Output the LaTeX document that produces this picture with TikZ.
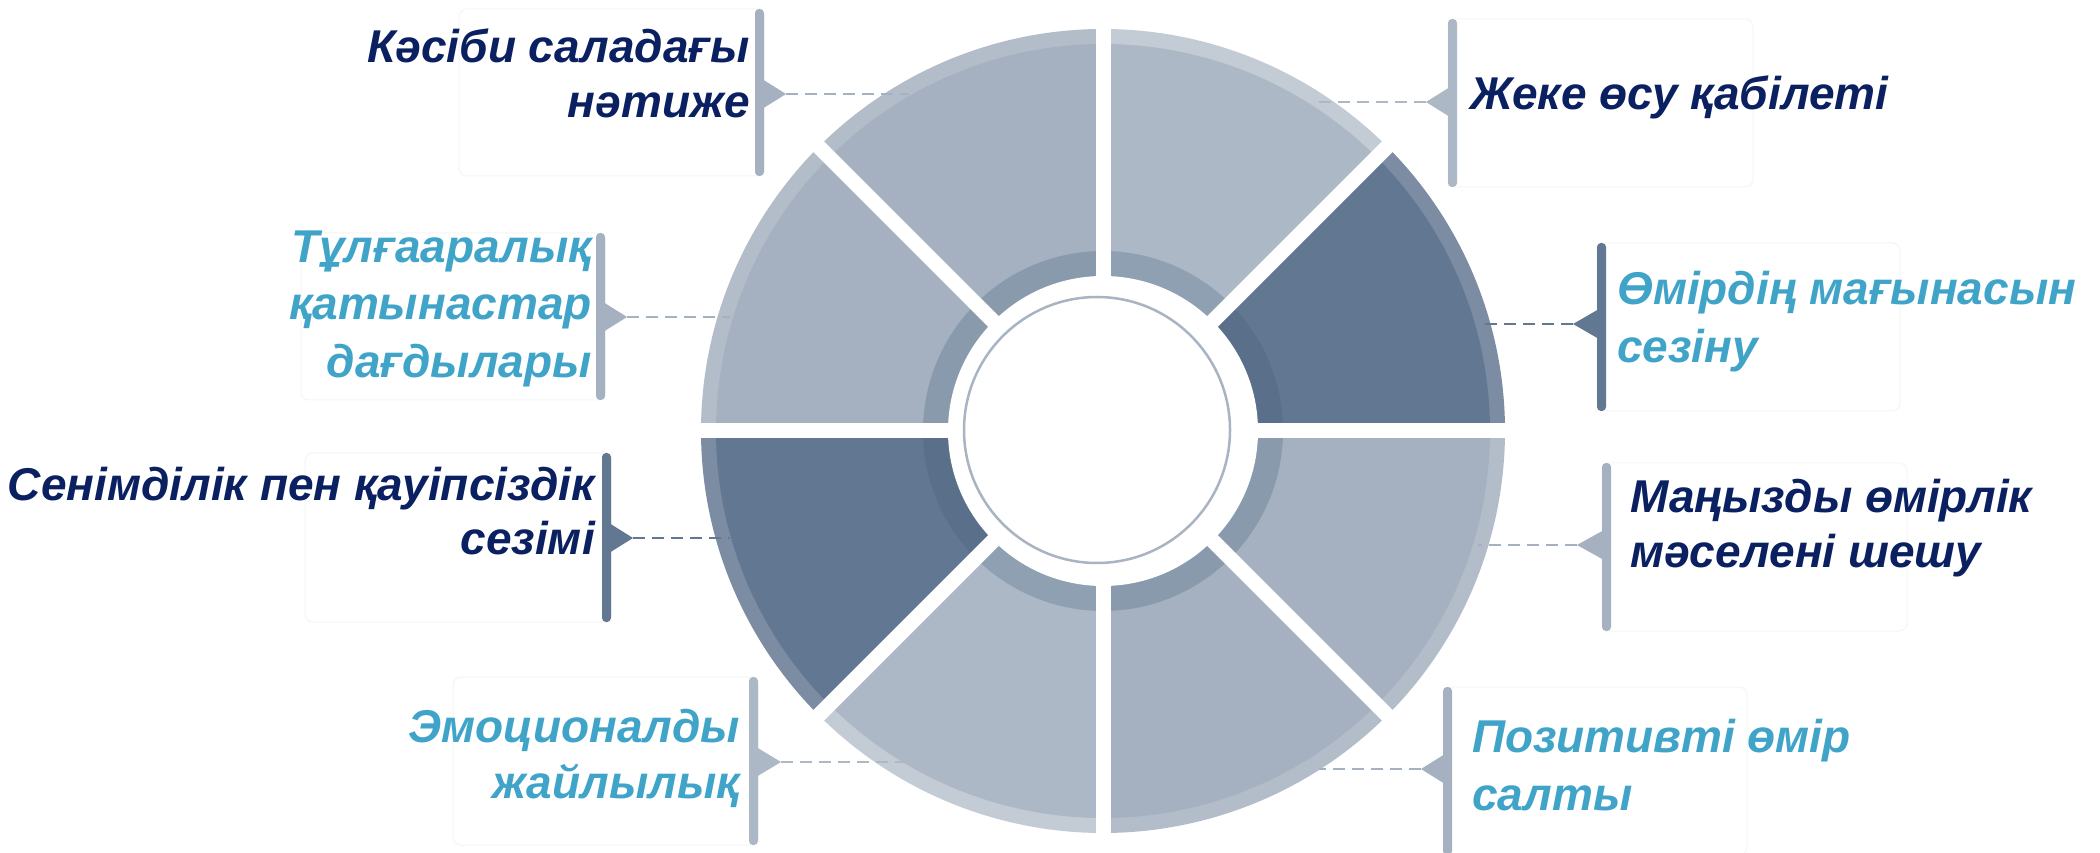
\documentclass[tikz,border=0pt]{standalone}
\usepackage{fontspec}
\setmainfont{Liberation Sans}
\definecolor{navy}{HTML}{0A2060}
\definecolor{teal}{HTML}{40A4C9}
\definecolor{rimA}{HTML}{C3CBD5}
\definecolor{bodyA}{HTML}{ADB8C6}
\definecolor{bandA}{HTML}{8FA0B2}
\definecolor{rimB}{HTML}{B3BDCA}
\definecolor{bodyB}{HTML}{A5B1C1}
\definecolor{bandB}{HTML}{8A9AAD}
\definecolor{rimD}{HTML}{7B8CA3}
\definecolor{bodyD}{HTML}{627791}
\definecolor{bandD}{HTML}{5A6F8A}
\definecolor{hubline}{HTML}{A9B4C3}
\definecolor{boxline}{HTML}{F4F5F7}
\newcommand\mysegm[4]{%
  \fill[#2] (C) -- ++(#1:402) arc[start angle=#1, delta angle=45, radius=402] -- cycle;
  \fill[#3] (C) -- ++(#1:387) arc[start angle=#1, delta angle=45, radius=387] -- cycle;
  \fill[#4] (C) -- ++(#1:180) arc[start angle=#1, delta angle=45, radius=180] -- cycle;
}
\tikzset{
  lbl/.style={font=\fontsize{46}{54}\selectfont\bfseries\itshape, inner sep=0pt},
  bx/.style={draw=boxline, line width=1pt, rounded corners=8pt, fill=white},
  bar/.style={rounded corners=4pt},
  dsh/.style={line width=2.6pt, dash pattern=on 12pt off 7pt}
}
\begin{document}
\begin{tikzpicture}[x=1pt,y=1pt]
\useasboundingbox (0,0) rectangle (2100,852);
\fill[white] (0,0) rectangle (2100,852);

% ---------- label boxes ----------
\draw[bx] (459,676) rectangle (764,843);
\draw[bx] (301,452) rectangle (605,619);
\draw[bx] (305,230) rectangle (611,399);
\draw[bx] (453,7) rectangle (758,175);
\draw[bx] (1448,665) rectangle (1753,833);
\draw[bx] (1597,441) rectangle (1900,609);
\draw[bx] (1602,221) rectangle (1907,389);
\draw[bx] (1443,-3) rectangle (1747,165);

% ---------- wheel ----------
\coordinate (C) at (1103,421);
\mysegm{0}{rimD}{bodyD}{bandD}
\mysegm{45}{rimA}{bodyA}{bandA}
\mysegm{90}{rimB}{bodyB}{bandB}
\mysegm{135}{rimB}{bodyB}{bandB}
\mysegm{180}{rimD}{bodyD}{bandD}
\mysegm{225}{rimA}{bodyA}{bandA}
\mysegm{270}{rimB}{bodyB}{bandB}
\mysegm{315}{rimB}{bodyB}{bandB}
\foreach \a in {0,45,...,315} \draw[white, line width=15pt] (C) -- ++(\a:410);
\fill[white] (C) circle[radius=155];
\node[circle, draw=hubline, line width=2.5pt, minimum size=266pt, inner sep=0pt] (hub) at (1097,422) {};

% ---------- bars and notches ----------
% label 1
\fill[bodyB, bar] (755,676) rectangle (764,843);
\fill[bodyB] (762,773) -- (786,758) -- (762,743) -- cycle;
\coordinate (n1) at (786,758); \coordinate (d1) at (909,758);
\draw[bodyB, dsh] (n1) -- (d1);
% label 2
\fill[bodyB, bar] (596,452) rectangle (605,619);
\fill[bodyB] (603,550) -- (627,535) -- (603,520) -- cycle;
\coordinate (n2) at (627,535); \coordinate (d2) at (730,535);
\draw[bodyB, dsh] (n2) -- (d2);
% label 3
\fill[bodyD, bar] (602,230) rectangle (611,399);
\fill[bodyD] (609,329) -- (633,314) -- (609,299) -- cycle;
\coordinate (n3) at (633,314); \coordinate (d3) at (730,314);
\draw[bodyD, dsh] (n3) -- (d3);
% label 4
\fill[bodyA, bar] (749,7) rectangle (758,175);
\fill[bodyA] (756,105) -- (781,90) -- (756,75) -- cycle;
\coordinate (n4) at (781,90); \coordinate (d4) at (904,90);
\draw[bodyA, dsh] (n4) -- (d4);
% label 5
\fill[bodyA, bar] (1448,665) rectangle (1457,833);
\fill[bodyA] (1450,765) -- (1426,750) -- (1450,735) -- cycle;
\coordinate (n5) at (1426,750); \coordinate (d5) at (1319,750);
\draw[bodyA, dsh] (n5) -- (d5);
% label 6
\fill[bodyD, bar] (1597,441) rectangle (1606,609);
\fill[bodyD] (1599,543) -- (1573,528) -- (1599,513) -- cycle;
\coordinate (n6) at (1573,528); \coordinate (d6) at (1478,528);
\draw[bodyD, dsh] (n6) -- (d6);
% label 7
\fill[bodyB, bar] (1602,221) rectangle (1611,389);
\fill[bodyB] (1604,322) -- (1577,307) -- (1604,292) -- cycle;
\coordinate (n7) at (1577,307); \coordinate (d7) at (1478,307);
\draw[bodyB, dsh] (n7) -- (d7);
% label 8
\fill[bodyB, bar] (1443,-3) rectangle (1452,165);
\fill[bodyB] (1445,98) -- (1421,83) -- (1445,68) -- cycle;
\coordinate (n8) at (1421,83); \coordinate (d8) at (1319,83);
\draw[bodyB, dsh] (n8) -- (d8);

% ---------- texts ----------
\node[lbl, text=navy, anchor=base east] (t1a) at (750,789) {Кәсіби саладағы};
\node[lbl, text=navy, anchor=base east] (t1b) at (750,734) {нәтиже};
\node[lbl, text=teal, anchor=base east] (t2a) at (592,589) {Тұлғааралық};
\node[lbl, text=teal, anchor=base east] (t2b) at (592,532) {қатынастар};
\node[lbl, text=teal, anchor=base east] (t2c) at (592,474) {дағдылары};
\node[lbl, text=navy, anchor=base east] (t3a) at (595,352) {Сенімділік пен қауіпсіздік};
\node[lbl, text=navy, anchor=base east] (t3b) at (595,298) {сезімі};
\node[lbl, text=teal, anchor=base east] (t4a) at (740,110) {Эмоционалды};
\node[lbl, text=teal, anchor=base east] (t4b) at (740,54) {жайлылық};
\node[lbl, text=navy, anchor=base west] (t5a) at (1470,742) {Жеке өсу қабілеті};
\node[lbl, text=teal, anchor=base west] (t6a) at (1617,547) {Өмірдің мағынасын};
\node[lbl, text=teal, anchor=base west] (t6b) at (1617,489) {сезіну};
\node[lbl, text=navy, anchor=base west] (t7a) at (1630,339) {Маңызды өмірлік};
\node[lbl, text=navy, anchor=base west] (t7b) at (1630,285) {мәселені шешу};
\node[lbl, text=teal, anchor=base west] (t8a) at (1472,100) {Позитивті өмір};
\node[lbl, text=teal, anchor=base west] (t8b) at (1472,42) {салты};
\end{tikzpicture}
\end{document}
